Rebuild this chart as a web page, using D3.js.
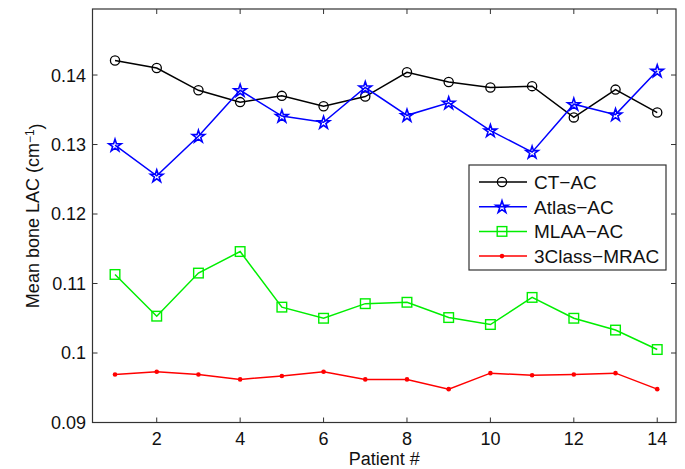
<!DOCTYPE html>
<html>
<head>
<meta charset="utf-8">
<script src="https://cdn.jsdelivr.net/npm/d3@7"></script>
<style>
  body { margin: 0; background: #fff; }
  svg text { font-family: "Liberation Sans", Arial, sans-serif; fill: #111; }
</style>
</head>
<body>
<div id="chart"></div>
<script>
// patient numbers
var patients = [1, 2, 3, 4, 5, 6, 7, 8, 9, 10, 11, 12, 13, 14];

// mean bone LAC per method (cm^-1)
var ctAC     = [0.1421, 0.1410, 0.1378, 0.1361, 0.1370, 0.1355, 0.1369, 0.1404, 0.1390, 0.1382, 0.1384, 0.1339, 0.1379, 0.1346];
var atlasAC  = [0.1299, 0.1255, 0.1312, 0.1378, 0.1341, 0.1332, 0.1382, 0.1342, 0.1360, 0.1320, 0.1289, 0.1358, 0.1343, 0.1406];
var mlaaAC   = [0.1113, 0.1053, 0.1115, 0.1146, 0.1066, 0.1050, 0.1071, 0.1073, 0.1051, 0.1041, 0.1080, 0.1050, 0.1033, 0.1005];
var mrac3    = [0.0969, 0.0973, 0.0969, 0.0962, 0.0967, 0.0973, 0.0962, 0.0962, 0.0948, 0.0971, 0.0968, 0.0969, 0.0971, 0.0948];

// tick labels
var xTicks = [2, 4, 6, 8, 10, 12, 14];
var yTicks = [0.09, 0.10, 0.11, 0.12, 0.13, 0.14];
var yTickLabels = ["0.09", "0.1", "0.11", "0.12", "0.13", "0.14"];

var seriesNames = ["CT\u2212AC", "Atlas\u2212AC", "MLAA\u2212AC", "3Class\u2212MRAC"];
var seriesValues = [ctAC, atlasAC, mlaaAC, mrac3];
var seriesColors = ["#000000", "#0000ff", "#00ee00", "#ff0000"];
var seriesMarkers = ["circle", "star", "square", "dot"];

var w = 685, h = 469;
// plot box edges (named to avoid clashing with window.top)
var pLeft = 92.5, pRight = 676, pTop = 9, pBottom = 422.5;
var fs = "18px";

var svg = d3.select("#chart").append("svg")
    .attr("width", w).attr("height", h);

var xscale = d3.scaleLinear().domain([0.46, 14.45]).range([pLeft, pRight]);
var yscale = d3.scaleLinear().domain([0.09, 0.1495]).range([pBottom, pTop]);

// frame
svg.append("rect")
    .attr("x", pLeft).attr("y", pTop)
    .attr("width", pRight - pLeft).attr("height", pBottom - pTop)
    .attr("fill", "none").attr("stroke", "#333").attr("stroke-width", 1.2);

// inward ticks, bottom/top and left/right
var tlen = 5;
var axes = svg.append("g").attr("stroke", "#333").attr("stroke-width", 1);
xTicks.forEach(function(t) {
    var x = xscale(t);
    axes.append("line").attr("x1", x).attr("x2", x).attr("y1", pBottom).attr("y2", pBottom - tlen);
    axes.append("line").attr("x1", x).attr("x2", x).attr("y1", pTop).attr("y2", pTop + tlen);
});
yTicks.forEach(function(t) {
    var y = yscale(t);
    axes.append("line").attr("x1", pLeft).attr("x2", pLeft + tlen).attr("y1", y).attr("y2", y);
    axes.append("line").attr("x1", pRight).attr("x2", pRight - tlen).attr("y1", y).attr("y2", y);
});

// tick labels
svg.selectAll(".xlab").data(xTicks).enter().append("text")
    .attr("x", function(d) { return xscale(d); })
    .attr("y", 445)
    .style("text-anchor", "middle").style("font-size", fs)
    .text(function(d) { return d; });
svg.selectAll(".ylab").data(yTicks).enter().append("text")
    .attr("x", 86)
    .attr("y", function(d) { return yscale(d); })
    .attr("dy", "0.36em")
    .style("text-anchor", "end").style("font-size", fs)
    .text(function(d, i) { return yTickLabels[i]; });

// axis titles
svg.append("text").attr("x", (pLeft + pRight) / 2).attr("y", 464.5)
    .style("text-anchor", "middle").style("font-size", fs)
    .text("Patient #");
var ylab = svg.append("text")
    .attr("transform", "translate(39," + ((pTop + pBottom) / 2) + ") rotate(-90)")
    .style("text-anchor", "middle").style("font-size", fs);
ylab.append("tspan").text("Mean bone LAC (cm");
ylab.append("tspan").attr("dy", "-0.45em").style("font-size", "12px").text("\u22121");
ylab.append("tspan").attr("dy", "0.45em").text(")");

// marker drawing
var starPath = d3.symbol().type(d3.symbolStar).size(48);
function drawMarker(g, type, x, y, color) {
    if (type === "circle") {
        g.append("circle").attr("cx", x).attr("cy", y).attr("r", 4.6)
            .attr("fill", "none").attr("stroke", color).attr("stroke-width", 1.3);
    } else if (type === "star") {
        g.append("path").attr("d", starPath()).attr("transform", "translate(" + x + "," + (y + 0.5) + ")")
            .attr("fill", "none").attr("stroke", color).attr("stroke-width", 1.6);
    } else if (type === "square") {
        g.append("rect").attr("x", x - 4.8).attr("y", y - 4.8).attr("width", 9.6).attr("height", 9.6)
            .attr("fill", "none").attr("stroke", color).attr("stroke-width", 1.4);
    } else {
        g.append("circle").attr("cx", x).attr("cy", y).attr("r", 2.3).attr("fill", color);
    }
}

var line = d3.line()
    .x(function(d, i) { return xscale(patients[i]); })
    .y(function(d) { return yscale(d); });

seriesValues.forEach(function(vals, s) {
    var g = svg.append("g");
    g.append("path").attr("d", line(vals))
        .attr("fill", "none").attr("stroke", seriesColors[s]).attr("stroke-width", 1.5);
    vals.forEach(function(v, i) {
        drawMarker(g, seriesMarkers[s], xscale(patients[i]), yscale(v), seriesColors[s]);
    });
});

// legend
var lg = svg.append("g");
lg.append("rect").attr("x", 469).attr("y", 165).attr("width", 197).attr("height", 105)
    .attr("fill", "#fff").attr("stroke", "#333").attr("stroke-width", 1.2);
seriesNames.forEach(function(name, s) {
    var y = 182 + s * 24.7;
    lg.append("line").attr("x1", 479).attr("x2", 527).attr("y1", y).attr("y2", y)
        .attr("stroke", seriesColors[s]).attr("stroke-width", 1.5);
    drawMarker(lg, seriesMarkers[s], 502, y, seriesColors[s]);
    lg.append("text").attr("x", 534).attr("y", y).attr("dy", "0.36em")
        .style("font-size", "19px").text(name);
});
</script>
</body>
</html>
